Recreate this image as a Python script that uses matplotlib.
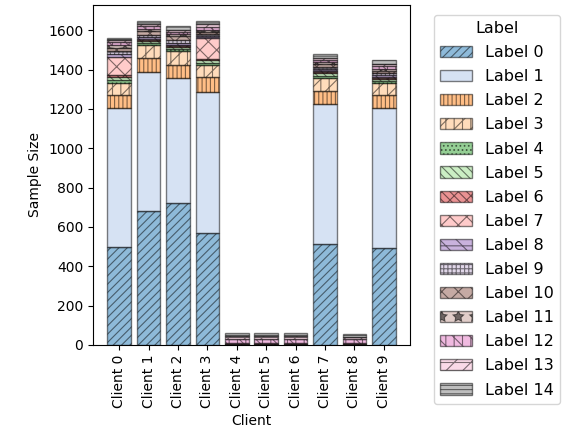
import matplotlib
matplotlib.use("Agg")
import matplotlib.pyplot as plt
import numpy as np

clients = [f"Client {i}" for i in range(10)]
labels = [f"Label {i}" for i in range(15)]

# rows: labels 0..14, columns: clients 0..9
label0 = [500, 680, 720, 570, 0, 0, 0, 515, 0, 495]
label1 = [705, 705, 636, 715, 0, 0, 0, 710, 0, 710]
label2 = [66, 75, 66, 76, 0, 0, 0, 66, 0, 65]
label3 = [61, 65, 72, 61, 0, 0, 0, 66, 0, 60]
label4 = [15, 10, 10, 13, 0, 0, 0, 12, 0, 12]
label5 = [15, 10, 10, 13, 0, 0, 0, 12, 0, 12]
label6 = [10, 5, 5, 8, 0, 0, 0, 5, 0, 5]
label7 = [91, 5, 5, 105, 0, 0, 0, 5, 0, 5]
label8 = [15, 10, 12, 10, 0, 0, 0, 10, 0, 8]
label9 = [15, 10, 12, 10, 2, 2, 2, 10, 2, 8]
label10 = [16, 20, 20, 12, 5, 5, 5, 15, 5, 12]
label11 = [15, 10, 12, 8, 5, 5, 5, 10, 5, 10]
label12 = [14, 15, 10, 15, 18, 18, 20, 12, 17, 14]
label13 = [14, 10, 10, 15, 15, 15, 15, 13, 14, 14]
label14 = [8, 15, 20, 15, 15, 15, 15, 20, 15, 20]

data = [label0, label1, label2, label3, label4, label5, label6, label7,
        label8, label9, label10, label11, label12, label13, label14]

colors = plt.get_cmap("tab20").colors[:15]
hatches = ['////', '', '||||', '//||', '....', '\\\\\\\\', 'xx\\\\', 'xx',
           '--\\\\', '++++', 'xx', '*', '||\\\\', '//--', '----']

plt.rcParams['hatch.linewidth'] = 0.8

fig = plt.figure(figsize=(5.67, 4.48), dpi=100)
ax = fig.add_axes([0.164, 0.23, 0.559, 0.759])

x = np.arange(len(clients))
bottom = np.zeros(len(clients))
for i, vals in enumerate(data):
    vals = np.array(vals, dtype=float)
    ax.bar(x, vals, bottom=bottom, color=colors[i], alpha=0.5,
           edgecolor='black', hatch=hatches[i], label=labels[i], width=0.8)
    bottom += vals

ax.set_xticks(x)
ax.set_xticklabels(clients, rotation=90)
ax.set_xlabel("Client")
ax.set_ylabel("Sample Size")
ax.legend(title="Label", bbox_to_anchor=(1.05, 0.995), loc="upper left",
          fontsize=11.5, title_fontsize=11.5, labelspacing=0.57)

fig.savefig("out.png", dpi=100)
